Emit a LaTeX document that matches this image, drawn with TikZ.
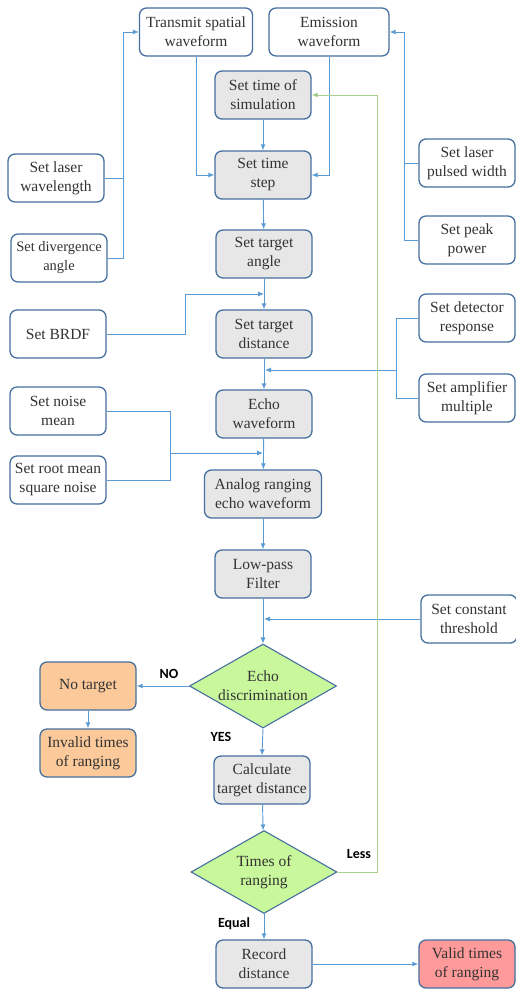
\documentclass[tikz,border=0pt]{standalone}
\usepackage{fontspec}
\setmainfont{Liberation Serif}
\newfontfamily\branchfont{Carlito}
\usetikzlibrary{arrows.meta,shapes.geometric}
\definecolor{boxline}{HTML}{46709F}
\definecolor{flowblue}{HTML}{5B9BD5}
\definecolor{loopgreen}{HTML}{A9D18E}
\definecolor{procfill}{HTML}{E7E7E7}
\definecolor{decfill}{HTML}{C9F79C}
\definecolor{nofill}{HTML}{FBC99A}
\definecolor{validfill}{HTML}{FF9A9A}
\definecolor{textgray}{HTML}{333333}

\tikzset{
	inbox/.style={rectangle, rounded corners=7pt, draw=boxline, line width=1.3pt, fill=white, align=center, text=textgray,
		font=\fontsize{15.5}{19}\selectfont, inner sep=0pt, minimum width=96pt, minimum height=48pt},
	procbox/.style={inbox, fill=procfill},
	decision/.style={diamond, aspect=1.75, draw=boxline, line width=1.1pt, fill=decfill, align=center, text=textgray,
		font=\fontsize{15.5}{19}\selectfont, inner sep=0pt, minimum width=147pt, minimum height=84pt},
	flow/.style={draw=flowblue, line width=0.9pt, -{Latex[length=6pt,width=5pt]}},
	link/.style={draw=flowblue, line width=0.9pt},
	branch/.style={font=\branchfont\bfseries\fontsize{14}{16}\selectfont, text=black}
}

\begin{document}
\begin{tikzpicture}[x=1pt, y=-1pt]
	\useasboundingbox (0,0) rectangle (516,990);

	\node[inbox, minimum width=113pt] (transmit) at (196,32) {Transmit spatial\\waveform};
	\node[inbox, minimum width=120pt] (emission) at (329,32) {Emission\\waveform};
	\node[inbox] (wavelength) at (56,178) {Set laser\\wavelength};
	\node[inbox, font=\fontsize{14.5}{19}\selectfont] (divergence) at (59,258) {Set divergence\\angle};
	\node[inbox] (pulse) at (467,163) {Set laser\\pulsed width};
	\node[inbox] (peak) at (467,240) {Set peak\\power};
	\node[inbox] (brdf) at (58,334) {Set BRDF};
	\node[inbox] (detector) at (467,318) {Set detector\\response};
	\node[inbox] (amplifier) at (467,398) {Set amplifier\\multiple};
	\node[inbox] (noise) at (58,411) {Set noise\\mean};
	\node[inbox] (rms) at (58,480) {Set root mean\\square noise};
	\node[inbox] (threshold) at (469,619) {Set constant\\threshold};

	\node[procbox] (sim) at (263,95) {Set time of\\simulation};
	\node[procbox] (step) at (263,175) {Set time\\step};
	\node[procbox] (angle) at (264,254) {Set target\\angle};
	\node[procbox] (dist) at (264,334) {Set target\\distance};
	\node[procbox] (echo) at (264,414) {Echo\\waveform};
	\node[procbox, minimum width=117pt] (analog) at (263,494) {Analog ranging\\echo waveform};
	\node[procbox] (filter) at (263,574) {Low-pass\\Filter};
	\node[decision] (discrim) at (263,686) {Echo\\discrimination};
	\node[procbox, fill=nofill] (notarget) at (88,686) {No target};
	\node[procbox, fill=nofill] (invalid) at (88,753) {Invalid times\\of ranging};
	\node[procbox] (calc) at (262,780) {Calculate\\target distance};
	\node[decision, minimum width=146pt, minimum height=83pt] (times) at (264,872) {Times of\\ranging};
	\node[procbox] (record) at (264,964) {Record\\distance};
	\node[procbox, fill=validfill] (valid) at (467,964) {Valid times\\of ranging};

	\coordinate (leftbus) at (123,32);
	\coordinate (rightbus) at (404,32);
	\coordinate (brdfin) at (264,294);
	\coordinate (detin) at (265,370);
	\coordinate (noisein) at (263,453);
	\coordinate (thrin) at (264,619);

	\draw[flow] (divergence.east) -| (leftbus) -- (transmit.west);
	\draw[link] (wavelength.east) -- (wavelength.east -| leftbus);
	\draw[flow] (peak.west) -| (rightbus) -- (emission.east);
	\draw[link] (pulse.west) -- (pulse.west -| rightbus);
	\draw[flow] (transmit.south) |- (step.west);
	\draw[flow] (emission.south) |- (step.east);
	\draw[flow] (sim) -- (step);
	\draw[flow] (step) -- (angle);
	\draw[flow] (angle) -- (dist);
	\draw[flow] (brdf.east) -| (185,294) -- (brdfin);
	\draw[flow] (dist) -- (echo);
	\draw[flow] (detector.west) -| (396,370) -- (detin);
	\draw[link] (amplifier.west) -| (396,370);
	\draw[flow] (echo) -- (analog);
	\draw[flow] (noise.east) -| (170,453) -- (noisein);
	\draw[link] (rms.east) -| (170,453);
	\draw[flow] (analog) -- (filter);
	\draw[flow] (filter) -- (discrim);
	\draw[flow] (threshold.west) -- (thrin);
	\draw[flow] (discrim.west) -- (notarget.east);
	\draw[flow] (notarget) -- (invalid);
	\draw[flow] (discrim.south) -- (calc.north);
	\draw[flow] (calc) -- (times);
	\draw[flow] (times) -- (record);
	\draw[flow] (record) -- (valid);
	\draw[flow, draw=loopgreen, -{Latex[length=6pt,width=5pt,fill=loopgreen!80!black]}] (times.east) -| (377,95) -- (sim.east);

	\node[branch] (no) at (169,674) {NO};
	\node[branch] (yes) at (221,737) {YES};
	\node[branch] (less) at (359,854) {Less};
	\node[branch] (equal) at (234,924) {Equal};
\end{tikzpicture}
\end{document}
